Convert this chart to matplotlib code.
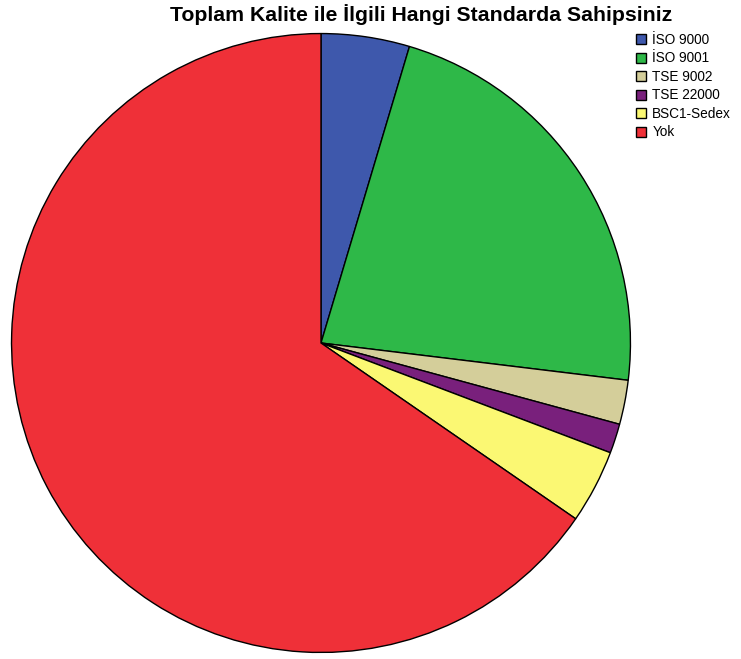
import matplotlib.pyplot as plt

plt.rcParams['font.family'] = ['Liberation Sans', 'DejaVu Sans']

labels = ['İSO 9000', 'İSO 9001', 'TSE 9002', 'TSE 22000', 'BSC1-Sedex', 'Yok']
counts = [6, 29, 3, 2, 5, 85]
colors = ['#3e58ac', '#2eb848', '#d4ce9a', '#79207c', '#fbf873', '#ef3038']

W, H = 741, 659
fig = plt.figure(figsize=(W / 100, H / 100), dpi=100)

# pie axes in pixel terms: center (321, 343), radius 311
cx, cy, r = 321, 343, 311
ax = fig.add_axes([(cx - r) / W, (H - cy - r) / H, 2 * r / W, 2 * r / H])
wedges, _ = ax.pie(counts, colors=colors, startangle=90, counterclock=False,
                   radius=1, wedgeprops=dict(edgecolor='black', linewidth=1))
ax.set_xlim(-1.005, 1.005)
ax.set_ylim(-1.005, 1.005)
ax.set_aspect('equal')
ax.axis('off')

fig.text(421 / W, 1 - 15 / H, 'Toplam Kalite ile İlgili Hangi Standarda Sahipsiniz',
         ha='center', va='center', fontsize=15.3, fontweight='bold')

fig.legend(wedges, labels, loc='upper left', bbox_to_anchor=(636 / W, 1 - 33 / H),
           frameon=False, fontsize=9.8, handlelength=0.75, handleheight=0.75,
           handletextpad=0.45, labelspacing=0.33, borderaxespad=0, borderpad=0)

fig.savefig('out.png', dpi=100)
